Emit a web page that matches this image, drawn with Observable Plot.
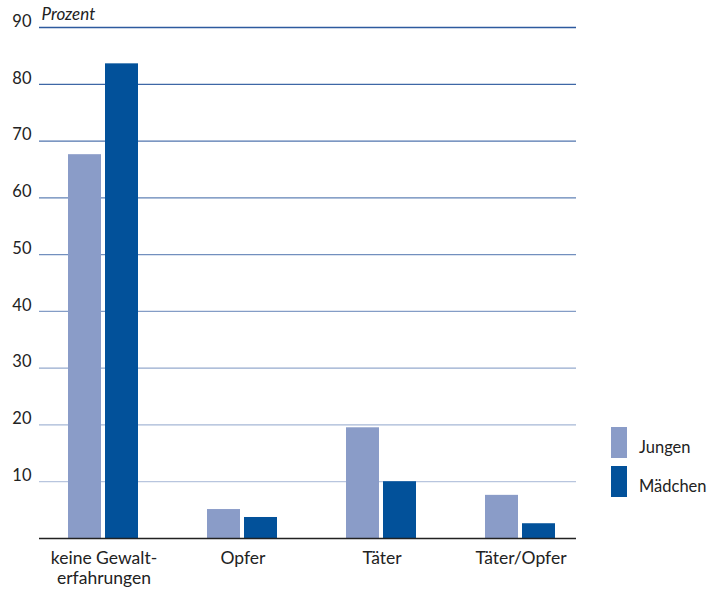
<!DOCTYPE html>
<html>
<head>
<meta charset="utf-8">
<script src="https://cdn.jsdelivr.net/npm/d3@7"></script>
<script src="https://cdn.jsdelivr.net/npm/@observablehq/plot@0.6"></script>
<style>
  html, body { margin: 0; padding: 0; background: #fff; }
  #wrap { position: relative; width: 709px; height: 594px; font-family: Lato, "Open Sans", sans-serif; color: #222; }
  .leg { position: absolute; display: flex; align-items: center; font-size: 16.5px; }
  .sw { width: 16px; height: 31px; margin-right: 12px; }
</style>
</head>
<body>
<div id="wrap"></div>
<script>
const groups = ["keine Gewalt-\nerfahrungen", "Opfer", "Täter", "Täter/Opfer"];
const sexes = ["Jungen", "Mädchen"];
const jungen = [67.6, 5.1, 19.5, 7.6];
const maedchen = [83.6, 3.7, 10.0, 2.6];
const yTicks = [10, 20, 30, 40, 50, 60, 70, 80, 90];
const colors = ["#8a9cc8", "#02519a"];

const data = groups.flatMap((g, i) => [
  {g, s: sexes[0], v: jungen[i]},
  {g, s: sexes[1], v: maedchen[i]}
]);

const gridColor = d3.interpolateRgb("#c9d2e6", "#2d5a9e");
const gridRows = yTicks.flatMap(v => groups.map(g => ({v, g})));
const baseRows = groups.map(g => ({v: 0, g}));
const first = groups[0], last = groups[groups.length - 1];

function segRules(rows, opts) {
  return [
    Plot.ruleY(rows.filter(d => d.g === first), {...opts, insetLeft: 5}),
    Plot.ruleY(rows.filter(d => d.g !== first && d.g !== last), opts),
    Plot.ruleY(rows.filter(d => d.g === last), {...opts, insetRight: 14})
  ];
}

const chart = Plot.plot({
  width: 709,
  height: 594,
  marginTop: 27,
  marginBottom: 56,
  marginLeft: 32,
  marginRight: 118,
  style: {fontFamily: "Lato, 'Open Sans', sans-serif", fontSize: "15px", color: "#222", background: "#fff"},
  fx: {domain: groups, padding: 0, label: null},
  x: {domain: sexes, axis: null, paddingInner: 0.105, paddingOuter: 0.89},
  y: {domain: [0, 90], label: null},
  color: {domain: sexes, range: colors},
  marks: [
    ...segRules(gridRows, {y: "v", fx: "g", stroke: d => gridColor(d.v / 90), strokeWidth: 1.3}),
    Plot.barY(data, {fx: "g", x: "s", y: "v", fill: "s"}),
    ...segRules(baseRows, {y: "v", fx: "g", stroke: "#222", strokeWidth: 1.3}),
    Plot.axisY(yTicks, {anchor: "left", tickSize: 0, tickPadding: 3, dy: -6, fontSize: 16.5, label: null}),
    Plot.axisFx({anchor: "bottom", tickSize: 0, tickPadding: 11, fontSize: 17.5, lineHeight: 1.14, label: null}),
    Plot.text(["Prozent"], {fx: () => first, frameAnchor: "top-left", dx: 7, dy: -20, text: d => d, fontStyle: "italic", fontSize: 17, textAnchor: "start"})
  ]
});

const wrap = document.getElementById("wrap");
wrap.appendChild(chart);
sexes.forEach((s, i) => {
  const el = document.createElement("div");
  el.className = "leg";
  el.style.left = "611px";
  el.style.top = (427 + i * 39) + "px";
  el.innerHTML = `<div class="sw" style="background:${colors[i]}"></div><span style="padding-top:8px">${s}</span>`;
  wrap.appendChild(el);
});
</script>
</body>
</html>
